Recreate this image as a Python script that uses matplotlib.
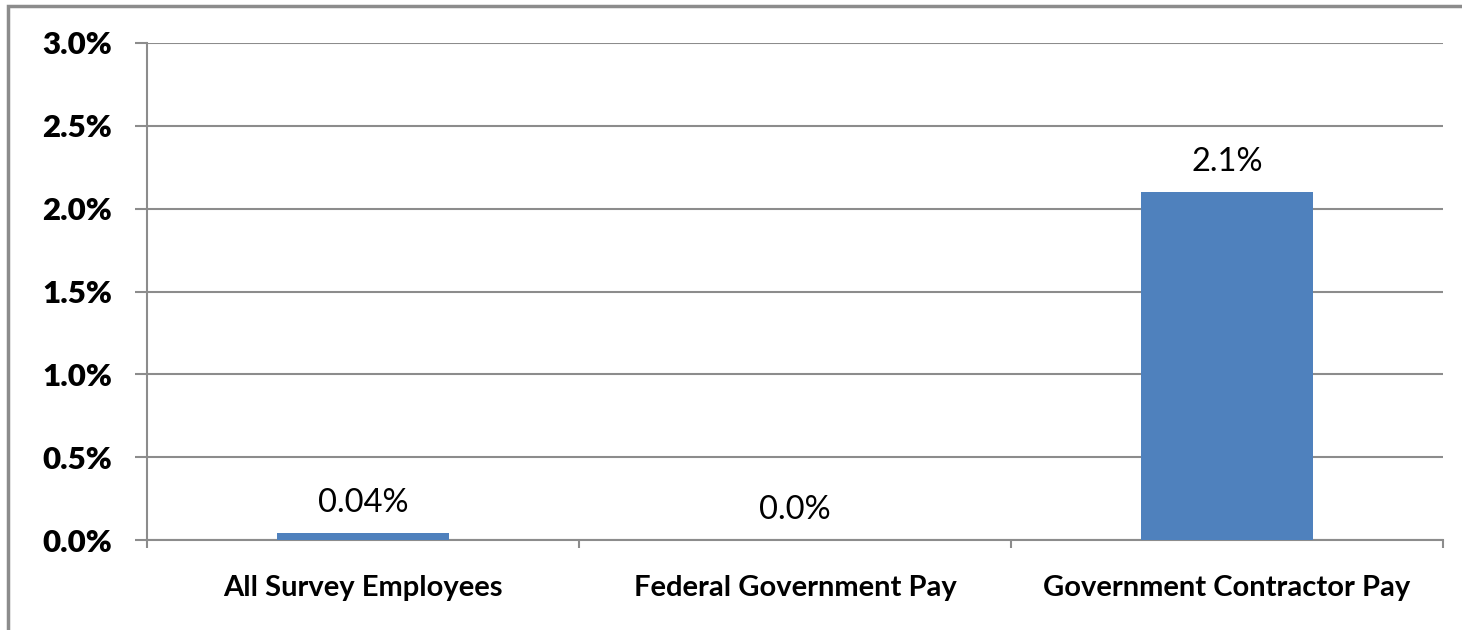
# -*- coding: utf-8 -*-

"""
Bar chart: percentage change by pay group
"""

import numpy as np
import matplotlib.pyplot as plt
from matplotlib.patches import Rectangle
from matplotlib.ticker import FixedLocator

categories = ["All Survey Employees", "Federal Government Pay", "Government Contractor Pay"]
values = [0.04, 0.0, 2.1]
value_labels = ["0.04%", "0.0%", "2.1%"]
y_ticks = [0.0, 0.5, 1.0, 1.5, 2.0, 2.5, 3.0]

GRID = "#8c8c8c"
BAR = "#4F81BD"

plt.rcParams["font.family"] = ["Lato", "DejaVu Sans"]

fig = plt.figure(figsize=(14.62, 6.30), dpi=100)
ax = fig.add_axes([147 / 1462, 1 - 540 / 630, (1443 - 147) / 1462, (540 - 43) / 630])

x = np.arange(len(categories))
ax.bar(x, values, width=0.396, color=BAR, zorder=3)

for xi, v, lab in zip(x, values, value_labels):
    ax.annotate(lab, (xi, v), xytext=(0, 11), textcoords="offset points",
                ha="center", va="bottom", fontsize=23.5, color="black")

ax.set_xlim(-0.5, 2.5)
ax.set_ylim(0, 3.0)
ax.set_yticks(y_ticks)
ax.set_yticklabels([f"{t:.1f}%" for t in y_ticks], fontsize=22.5, fontweight="heavy")
ax.set_xticks(x)
ax.set_xticklabels(categories, fontsize=21, fontweight="bold")
ax.xaxis.set_minor_locator(FixedLocator([-0.5, 0.5, 1.5, 2.5]))

ax.tick_params(axis="x", which="major", length=0, pad=25)
ax.tick_params(axis="x", which="minor", length=6, width=1.5, color=GRID)
ax.tick_params(axis="y", length=9, width=1.5, color=GRID, pad=16)

ax.grid(axis="y", color=GRID, linewidth=1.5, zorder=0)
for side in ["top", "right"]:
    ax.spines[side].set_visible(False)
for side in ["left", "bottom"]:
    ax.spines[side].set_color(GRID)
    ax.spines[side].set_linewidth(1.5)

# outer chart border, running off the right and bottom edges
fig.patches.append(Rectangle((8 / 1462, -0.1), 1.2, 1 - 6 / 630 + 0.1,
                             transform=fig.transFigure, fill=False,
                             edgecolor=GRID, linewidth=2.5))

fig.savefig("out.png", dpi=100)
